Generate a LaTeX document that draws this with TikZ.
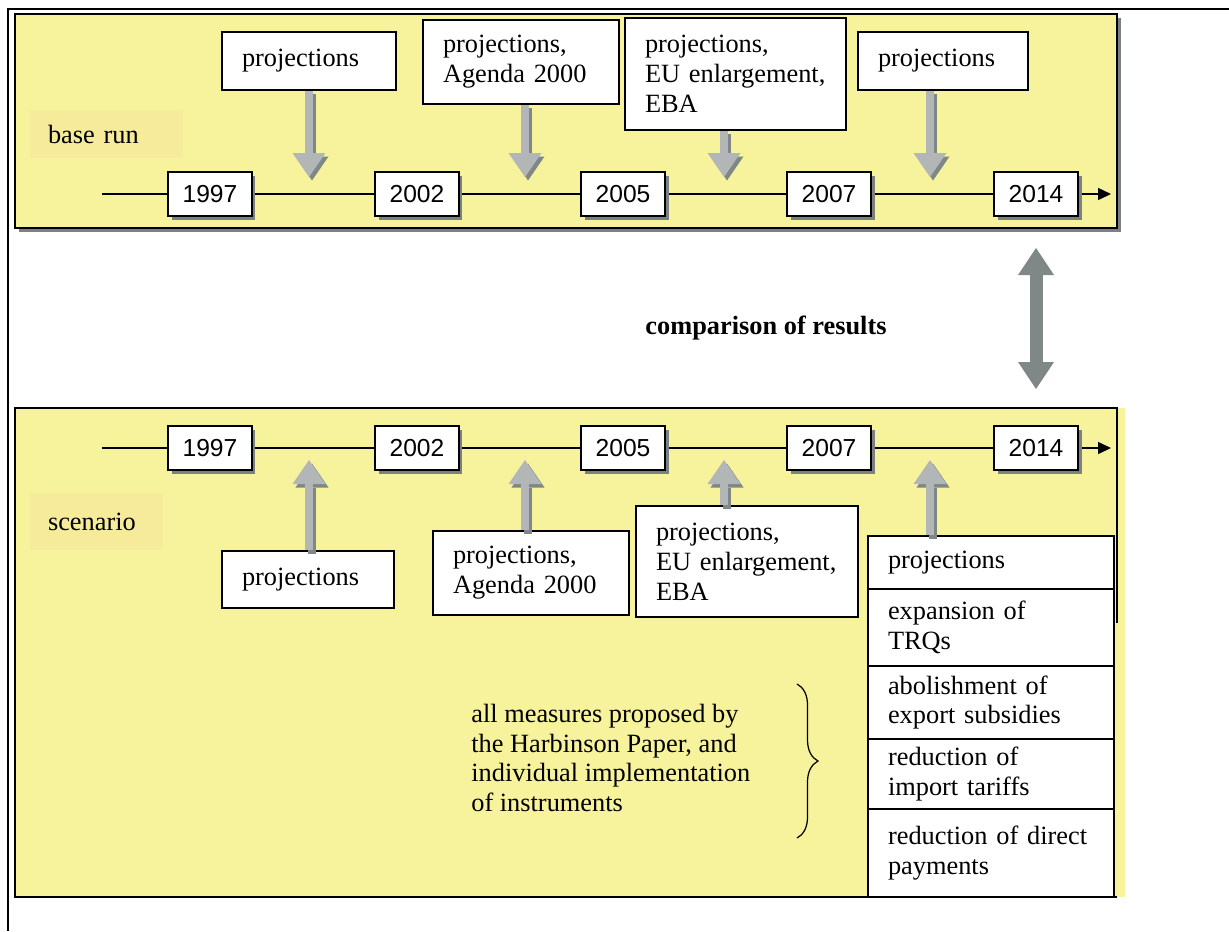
\documentclass[tikz,border=0pt]{standalone}
\usepackage{fontspec}
\setmainfont{Liberation Serif}
\setsansfont{Liberation Sans}
\usetikzlibrary{arrows.meta, shadows, decorations.pathreplacing}

\definecolor{panelyellow}{HTML}{F7F29C}
\definecolor{labelyellow}{HTML}{F5EB9B}
\definecolor{panelshadow}{HTML}{7B8181}
\definecolor{arrowlight}{HTML}{B2B6B6}
\definecolor{arrowdark}{HTML}{7F8787}

\tikzset{
  yearbox/.style={draw, fill=white, line width=0.8pt, font=\sffamily\fontsize{14}{16}\selectfont,
    minimum width=1.68cm, minimum height=0.88cm, inner sep=0pt,
    drop shadow={shadow xshift=0.07cm, shadow yshift=-0.07cm, fill=panelshadow, opacity=1}},
  projbox/.style={draw, fill=white, line width=0.8pt, align=left, inner xsep=0.4cm, inner ysep=0pt},
  lbl/.style={fill=labelyellow, align=left, inner xsep=0.36cm, inner ysep=0pt},
  blockarrow/.style={arrowlight, line width=0.17cm, -{Triangle[width=0.66cm, length=0.48cm, line width=0pt]}},
  blockshadow/.style={blockarrow, arrowdark, transform canvas={shift={(0.06cm,-0.07cm)}}},
  timeline/.style={line width=0.8pt, -{Triangle[width=0.24cm, length=0.26cm]}},
  cmparrow/.style={arrowdark, line width=0.26cm,
    {Triangle[width=0.72cm, length=0.54cm, line width=0pt]}-{Triangle[width=0.72cm, length=0.54cm, line width=0pt]}},
}

\begin{document}
\begin{tikzpicture}[x=0.02cm, y=-0.02cm, font=\fontsize{15}{17}\selectfont]
\useasboundingbox (0,0) rectangle (1229,931);

\draw[line width=0.05cm] (7,9) -- (1229,9); %frame top
\draw[line width=0.05cm] (8,9) -- (8,931); %frame left

% base run panel
\fill[panelshadow] (19,18) rectangle (1121,232);
\draw[fill=panelyellow, line width=0.8pt] (15,14) rectangle (1117,228);
\node[lbl, minimum width=3.06cm, minimum height=0.96cm, text width=2.34cm] (baserun) at (106.5,134) {base run};

\coordinate (tlA0) at (102,194);
\coordinate (tlA1) at (1111,194);
\draw[timeline] (tlA0) -- (tlA1);
\foreach \yr/\xx in {1997/210, 2002/417, 2005/623, 2007/829, 2014/1036}
  \node[yearbox] (a\yr) at (\xx,194) {\yr};

\node[projbox, text width=2.68cm, minimum height=1.16cm] (pA1) at (309,61) {projections};
\node[projbox, text width=3.12cm, minimum height=1.68cm] (pA2) at (521,62) {projections,\\Agenda 2000};
\node[projbox, text width=3.62cm, minimum height=2.24cm] (pA3) at (735.5,74) {projections,\\EU enlargement,\\EBA};
\node[projbox, text width=2.6cm, minimum height=1.16cm] (pA4) at (943,61) {projections};

\coordinate (tA1) at (309,177);
\coordinate (tA2) at (525,177);
\coordinate (tA3) at (724,177);
\coordinate (tA4) at (930,177);
\foreach \i in {1,...,4} {
  \draw[blockshadow] (pA\i.south -| tA\i) -- (tA\i);
  \draw[blockarrow] (pA\i.south -| tA\i) -- (tA\i);
}

% comparison
\node[font=\fontsize{15}{17}\selectfont\bfseries] (cmp) at (766,328) {comparison of results};
\coordinate (cmpTop) at (1036,248);
\coordinate (cmpBot) at (1036,389);
\draw[cmparrow] (cmpTop) -- (cmpBot);

% scenario panel
\fill[panelyellow] (15,408) rectangle (1125,897);
\draw[line width=0.8pt] (1117,623) -- (1117,408) -- (15,408) -- (15,897) -- (1117,897);
\node[lbl, minimum width=2.66cm, minimum height=1.14cm, text width=1.94cm] (scen) at (96.5,521.5) {scenario};

\coordinate (tlB0) at (102,448);
\coordinate (tlB1) at (1111,448);
\draw[timeline] (tlB0) -- (tlB1);
\foreach \yr/\xx in {1997/210, 2002/417, 2005/623, 2007/829, 2014/1036}
  \node[yearbox] (b\yr) at (\xx,448) {\yr};

\node[projbox, text width=2.64cm, minimum height=1.14cm] (pB1) at (308,579.5) {projections};
\node[projbox, text width=3.12cm, minimum height=1.68cm] (pB2) at (531,573) {projections,\\Agenda 2000};
\node[projbox, text width=3.64cm, minimum height=2.22cm] (pB3) at (747,561.5) {projections,\\EU enlargement,\\EBA};

% measures stack
\node[projbox, text width=4.12cm, minimum height=1.06cm] (pB4) at (991,562.5) {projections};
\node[projbox, text width=4.12cm, minimum height=1.54cm] (mTrq) at (991,627.5) {expansion of\\TRQs};
\node[projbox, text width=4.12cm, minimum height=1.46cm] (mExp) at (991,702.5) {abolishment of\\export subsidies};
\node[projbox, text width=4.12cm, minimum height=1.40cm] (mTar) at (991,774) {reduction of\\import tariffs};
\node[projbox, text width=4.12cm, minimum height=1.76cm] (mPay) at (991,853) {reduction of direct\\payments};

\coordinate (tB1) at (309,460);
\coordinate (tB2) at (525,460);
\coordinate (tB3) at (724,460);
\coordinate (tB4) at (930,460);
\foreach \i in {1,...,4} {
  \draw[blockshadow] (pB\i.north -| tB\i) -- (tB\i);
  \draw[blockarrow] (pB\i.north -| tB\i) -- (tB\i);
}

\node[anchor=west, align=left, inner sep=0pt] (harb) at (471,758) {all measures proposed by\\the Harbinson Paper, and\\individual implementation\\of instruments};
\coordinate (brTop) at (797,684);
\coordinate (brBot) at (797,838);
\draw[decorate, decoration={brace, amplitude=0.42cm}, line width=0.7pt] (brTop) -- (brBot);

\end{tikzpicture}
\end{document}
